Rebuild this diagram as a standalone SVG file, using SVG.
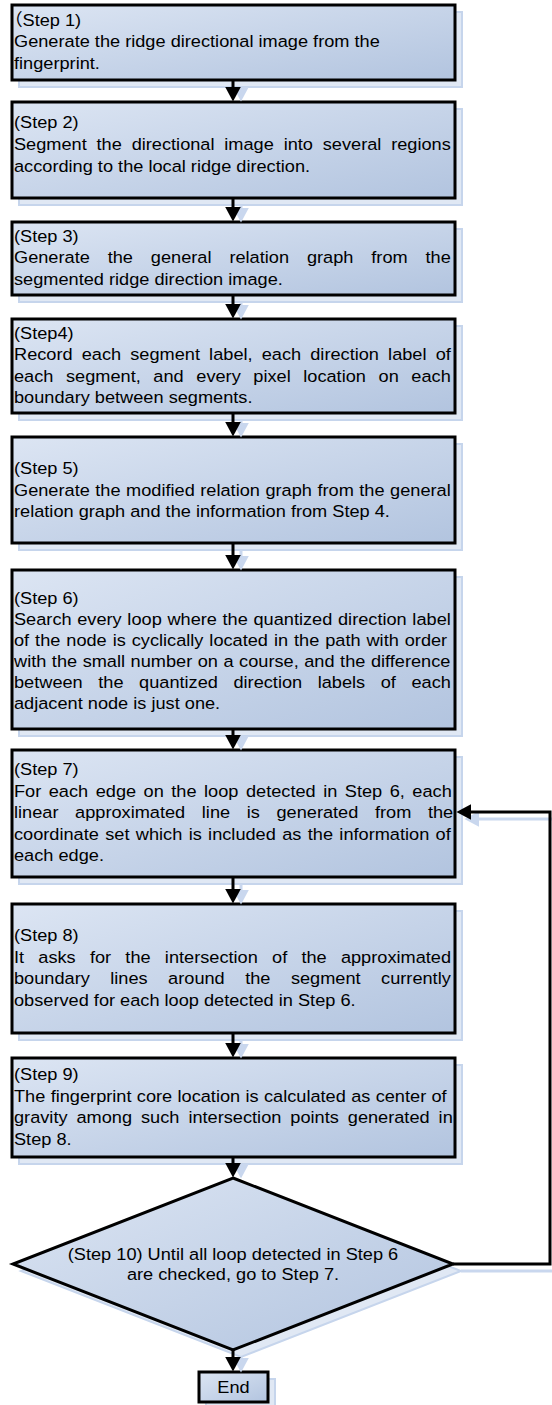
<svg xmlns="http://www.w3.org/2000/svg" width="552" height="1405" viewBox="0 0 552 1405">
<style>
.sh{fill:#e0e8f4;stroke:#c6d5ec;stroke-width:2}
.box{fill:url(#gf);stroke:#000;stroke-width:3}
.t{font-family:"Liberation Sans",Arial,"Noto Sans CJK SC",sans-serif;font-size:17px;fill:#000}
.c{fill:none;stroke:#000;stroke-width:3}
.cs{fill:none;stroke:#c9d7ee;stroke-width:3}
</style>
<defs>
<linearGradient id="gf" x1="0" y1="0" x2="1" y2="1">
<stop offset="0" stop-color="#dce5f3"/>
<stop offset="1" stop-color="#b2c4df"/>
</linearGradient>
<marker id="ah" markerUnits="userSpaceOnUse" markerWidth="16" markerHeight="16" viewBox="0 0 15 15" refX="6" refY="7.5" orient="auto">
<path d="M0,0 L14,7.5 L0,15 z" fill="#000"/>
</marker>
<marker id="ahs" markerUnits="userSpaceOnUse" markerWidth="16" markerHeight="16" viewBox="0 0 15 15" refX="6" refY="7.5" orient="auto">
<path d="M0,0 L14,7.5 L0,15 z" fill="#c9d7ee"/>
</marker>
</defs>
<rect width="552" height="1405" fill="#fff"/>

<g id="step1">
<rect class="sh" x="19" y="12" width="443" height="75"/>
<rect class="box" x="12" y="5" width="443" height="75"/>
<g transform="matrix(1.07 0 0 1 14 0)">
<text class="t" x="-9" y="26">（Step 1)</text>
<text class="t" x="0" y="47.5">Generate the ridge directional image from the</text>
<text class="t" x="0" y="69">fingerprint.</text>
</g>
</g>

<g id="step2">
<rect class="sh" x="19" y="109" width="443" height="96"/>
<rect class="box" x="12" y="102" width="443" height="96"/>
<g transform="matrix(1.07 0 0 1 14 0)">
<text class="t" x="0" y="128">(Step 2)</text>
<text class="t" x="0" y="150" word-spacing="4.45">Segment the directional image into several regions</text>
<text class="t" x="0" y="172">according to the local ridge direction.</text>
</g>
</g>

<g id="step3">
<rect class="sh" x="19" y="229" width="443" height="73"/>
<rect class="box" x="12" y="222" width="443" height="73"/>
<g transform="matrix(1.07 0 0 1 14 0)">
<text class="t" x="0" y="242">(Step 3)</text>
<text class="t" x="0" y="263.5" word-spacing="12">Generate the general relation graph from the</text>
<text class="t" x="0" y="285">segmented ridge direction image.</text>
</g>
</g>

<g id="step4">
<rect class="sh" x="19" y="326" width="443" height="94"/>
<rect class="box" x="12" y="319" width="443" height="94"/>
<g transform="matrix(1.07 0 0 1 14 0)">
<text class="t" x="0" y="338.75">(Step4)</text>
<text class="t" x="0" y="360.25" word-spacing="3.81">Record each segment label, each direction label of</text>
<text class="t" x="0" y="381.75" word-spacing="7.04">each segment, and every pixel location on each</text>
<text class="t" x="0" y="403.25">boundary between segments.</text>
</g>
</g>

<g id="step5">
<rect class="sh" x="19" y="444" width="443" height="106"/>
<rect class="box" x="12" y="437" width="443" height="106"/>
<g transform="matrix(1.07 0 0 1 14 0)">
<text class="t" x="0" y="474.5">(Step 5)</text>
<text class="t" x="0" y="496" word-spacing="0.43">Generate the modified relation graph from the general</text>
<text class="t" x="0" y="517.5">relation graph and the information from Step 4.</text>
</g>
</g>

<g id="step6">
<rect class="sh" x="19" y="577" width="443" height="159"/>
<rect class="box" x="12" y="570" width="443" height="159"/>
<g transform="matrix(1.07 0 0 1 14 0)">
<text class="t" x="0" y="604">(Step 6)</text>
<text class="t" x="0" y="625" word-spacing="0.57">Search every loop where the quantized direction label</text>
<text class="t" x="0" y="646" word-spacing="0.82">of the node is cyclically located in the path with order</text>
<text class="t" x="0" y="667" word-spacing="0.44">with the small number on a course, and the difference</text>
<text class="t" x="0" y="688" word-spacing="9.8">between the quantized direction labels of each</text>
<text class="t" x="0" y="709">adjacent node is just one.</text>
</g>
</g>

<g id="step7">
<rect class="sh" x="19" y="757" width="443" height="127"/>
<rect class="box" x="12" y="750" width="443" height="127"/>
<g transform="matrix(1.07 0 0 1 14 0)">
<text class="t" x="0" y="775.5">(Step 7)</text>
<text class="t" x="0" y="797" word-spacing="2.28">For each edge on the loop detected in Step 6, each</text>
<text class="t" x="0" y="818.5" word-spacing="10.8">linear approximated line is generated from the</text>
<text class="t" x="0" y="840" word-spacing="1.21">coordinate set which is included as the information of</text>
<text class="t" x="0" y="861.5">each edge.</text>
</g>
</g>

<g id="step8">
<rect class="sh" x="19" y="911" width="443" height="129"/>
<rect class="box" x="12" y="904" width="443" height="129"/>
<g transform="matrix(1.07 0 0 1 14 0)">
<text class="t" x="0" y="941.25">(Step 8)</text>
<text class="t" x="0" y="962.75" word-spacing="8.57">It asks for the intersection of the approximated</text>
<text class="t" x="0" y="984.25" word-spacing="14.4">boundary lines around the segment currently</text>
<text class="t" x="0" y="1005.75">observed for each loop detected in Step 6.</text>
</g>
</g>

<g id="step9">
<rect class="sh" x="19" y="1065" width="443" height="99"/>
<rect class="box" x="12" y="1058" width="443" height="99"/>
<g transform="matrix(1.07 0 0 1 14 0)">
<text class="t" x="0" y="1080.25">(Step 9)</text>
<text class="t" x="0" y="1101.75" word-spacing="0.26">The fingerprint core location is calculated as center of</text>
<text class="t" x="0" y="1123.25" word-spacing="3.65">gravity among such intersection points generated in</text>
<text class="t" x="0" y="1144.75">Step 8.</text>
</g>
</g>

<g id="step10">
<polygon class="sh" points="241,1185 461,1271 241,1357 21,1271"/>
<polygon class="box" points="233,1178 453,1264 233,1350 13,1264"/>
<g transform="matrix(1.07 0 0 1 233 0)">
<text class="t" x="0" y="1260" text-anchor="middle">(Step 10) Until all loop detected in Step 6</text>
<text class="t" x="0" y="1280" text-anchor="middle">are checked, go to Step 7.</text>
</g>
</g>

<g id="end">
<rect class="sh" x="206" y="1379" width="69" height="30"/>
<rect class="box" x="199" y="1372" width="69" height="30"/>
<g transform="matrix(1.07 0 0 1 233.5 0)">
<text class="t" x="0" y="1393.5" text-anchor="middle">End</text>
</g>
</g>

<g id="connectors">
<g class="shadows">
<path class="cs" d="M241,87 V93" marker-end="url(#ahs)"/>
<path class="cs" d="M241,205 V214" marker-end="url(#ahs)"/>
<path class="cs" d="M241,302 V311" marker-end="url(#ahs)"/>
<path class="cs" d="M241,420 V429" marker-end="url(#ahs)"/>
<path class="cs" d="M241,550 V562" marker-end="url(#ahs)"/>
<path class="cs" d="M241,736 V742" marker-end="url(#ahs)"/>
<path class="cs" d="M241,884 V896" marker-end="url(#ahs)"/>
<path class="cs" d="M241,1040 V1050" marker-end="url(#ahs)"/>
<path class="cs" d="M241,1164 V1170" marker-end="url(#ahs)"/>
<path class="cs" d="M241,1357 V1364" marker-end="url(#ahs)"/>
<path class="cs" d="M461,1271 H558 V819 H473" marker-end="url(#ahs)"/>
</g>
<path class="c" d="M233,80 V93" marker-end="url(#ah)"/>
<path class="c" d="M233,198 V213" marker-end="url(#ah)"/>
<path class="c" d="M233,295 V310" marker-end="url(#ah)"/>
<path class="c" d="M233,413 V428" marker-end="url(#ah)"/>
<path class="c" d="M233,543 V561" marker-end="url(#ah)"/>
<path class="c" d="M233,729 V741" marker-end="url(#ah)"/>
<path class="c" d="M233,877 V895" marker-end="url(#ah)"/>
<path class="c" d="M233,1033 V1049" marker-end="url(#ah)"/>
<path class="c" d="M233,1157 V1169" marker-end="url(#ah)"/>
<path class="c" d="M233,1350 V1363" marker-end="url(#ah)"/>
<path class="c" d="M453,1264 H550 V812 H465" marker-end="url(#ah)"/>
</g>
</svg>
